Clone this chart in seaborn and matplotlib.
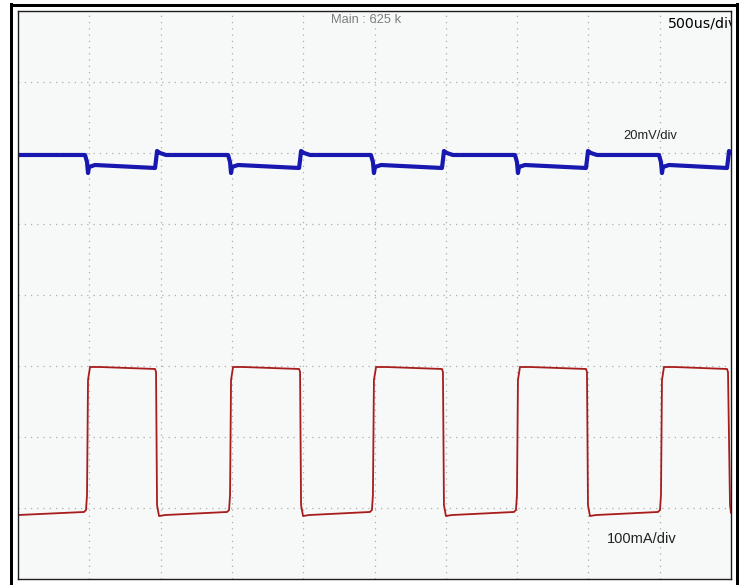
import numpy as np
import pandas as pd
import seaborn as sns
import matplotlib.pyplot as plt
from matplotlib.lines import Line2D

# ---- data (time in ms, amplitude in screen divisions) ----
red_t = [0.000,
         0.463, 0.477, 0.484, 0.491, 0.505, 0.575, 0.961, 0.968, 0.975, 0.989, 1.031,
         1.466, 1.480, 1.487, 1.494, 1.508, 1.578, 1.971, 1.978, 1.985, 1.999, 2.041,
         2.468, 2.482, 2.489, 2.496, 2.511, 2.581, 2.973, 2.980, 2.987, 3.001, 3.043,
         3.478, 3.492, 3.499, 3.506, 3.520, 3.590, 3.983, 3.990, 3.997, 4.011, 4.053,
         4.488, 4.502, 4.509, 4.516, 4.530, 4.600, 4.972, 4.979, 4.993, 5.000]
red_v = [0.901,
         0.944, 0.972, 1.183, 2.803, 2.986, 2.986, 2.958, 2.915, 1.042, 0.887, 0.901,
         0.944, 0.972, 1.183, 2.803, 2.986, 2.986, 2.958, 2.915, 1.042, 0.887, 0.901,
         0.944, 0.972, 1.183, 2.803, 2.986, 2.986, 2.958, 2.915, 1.042, 0.887, 0.901,
         0.944, 0.972, 1.183, 2.803, 2.986, 2.986, 2.958, 2.915, 1.042, 0.887, 0.901,
         0.944, 0.972, 1.183, 2.803, 2.986, 2.986, 2.958, 2.915, 1.042, 0.930]

blue_t = [0.000,
          0.470, 0.484, 0.491, 0.498, 0.540, 0.961, 0.968, 0.975, 0.996, 1.038,
          1.473, 1.487, 1.494, 1.501, 1.543, 1.971, 1.978, 1.985, 2.006, 2.048,
          2.475, 2.489, 2.496, 2.504, 2.546, 2.973, 2.980, 2.987, 3.008, 3.050,
          3.485, 3.499, 3.506, 3.513, 3.555, 3.983, 3.990, 3.997, 4.018, 4.060,
          4.495, 4.509, 4.516, 4.523, 4.565, 4.972, 4.979, 4.986, 5.000]
blue_v = [5.972,
          5.972, 5.873, 5.718, 5.803, 5.831, 5.789, 5.901, 6.028, 6.000, 5.972,
          5.972, 5.873, 5.718, 5.803, 5.831, 5.789, 5.901, 6.028, 6.000, 5.972,
          5.972, 5.873, 5.718, 5.803, 5.831, 5.789, 5.901, 6.028, 6.000, 5.972,
          5.972, 5.873, 5.718, 5.803, 5.831, 5.789, 5.901, 6.028, 6.000, 5.972,
          5.972, 5.873, 5.718, 5.803, 5.831, 5.789, 5.901, 6.028, 6.000]

x_grid = [0.5, 1.0, 1.5, 2.0, 2.5, 3.0, 3.5, 4.0, 4.5]
y_grid = [1, 2, 3, 4, 5, 6, 7]

label_top = "Main : 625 k"
label_time = "500us/div"
label_ch1 = "20mV/div"
label_ch2 = "100mA/div"

# ---- figure ----
sns.set_theme(style="white")
plt.rcParams['font.family'] = ['DejaVu Sans']

W, H = 740, 585
fig = plt.figure(figsize=(W / 100, H / 100), dpi=100, facecolor='white')
ax = fig.add_axes([18 / W, 6 / H, 713 / W, 568 / H])
ax.set_facecolor('#f7f9f8')
ax.set_xlim(0, 5)
ax.set_ylim(0, 8)
ax.set_xticks(x_grid)
ax.set_yticks(y_grid)
ax.tick_params(length=0, labelbottom=False, labelleft=False)
ax.grid(True, color='#a9aeae', linewidth=0.9, linestyle=(0, (1, 4)))
for s in ax.spines.values():
    s.set_color('#1e1e1e')
    s.set_linewidth(1.0)

red_df = pd.DataFrame({'t': red_t, 'v': red_v})
blue_df = pd.DataFrame({'t': blue_t, 'v': blue_v})
sns.lineplot(data=red_df, x='t', y='v', ax=ax, color='#a81c1c', linewidth=1.3,
             estimator=None, sort=False)
sns.lineplot(data=blue_df, x='t', y='v', ax=ax, color='#1818b0', linewidth=3.0,
             estimator=None, sort=False)
ax.set_xlabel('')
ax.set_ylabel('')

ax.text(0.488, 0.984, label_top, transform=ax.transAxes, ha='center', va='center',
        fontsize=9.3, color='#7d7d7d', family=['Liberation Sans', 'DejaVu Sans'])
ax.text(0.9116, 0.9718, label_time, transform=ax.transAxes, ha='left', va='baseline',
        fontsize=10.2, color='#000000', clip_on=True)
ax.text(0.8485, 0.7746, label_ch1, transform=ax.transAxes, ha='left', va='baseline',
        fontsize=9.3, color='#222222', family=['Liberation Sans', 'DejaVu Sans'])
ax.text(0.826, 0.0634, label_ch2, transform=ax.transAxes, ha='left', va='baseline',
        fontsize=10.5, color='#222222', family=['Liberation Sans', 'DejaVu Sans'])

# outer thick frame
lw_frame = 3 * 72 / 100
fig.add_artist(Line2D([10.5 / W, 10.5 / W], [0, 1 - 4 / H], color='black', lw=lw_frame,
                      transform=fig.transFigure, solid_capstyle='projecting'))
fig.add_artist(Line2D([10.5 / W, 736.5 / W], [1 - 5 / H, 1 - 5 / H], color='black', lw=lw_frame,
                      transform=fig.transFigure, solid_capstyle='projecting'))
fig.add_artist(Line2D([736.5 / W, 736.5 / W], [0, 1 - 4 / H], color='black', lw=lw_frame,
                      transform=fig.transFigure, solid_capstyle='projecting'))

fig.savefig('out.png', dpi=100, facecolor='white')
